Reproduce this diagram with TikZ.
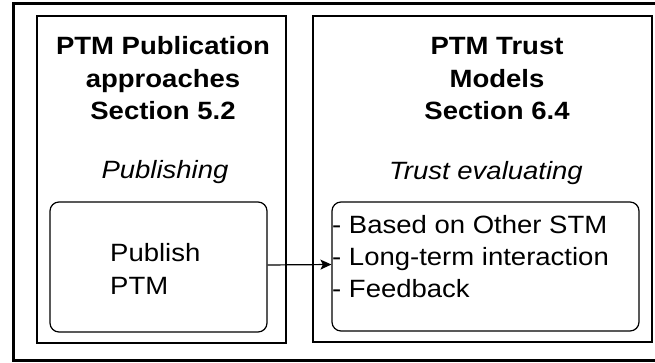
\documentclass[tikz,border=0pt]{standalone}
\usepackage{fontspec}
\setmainfont{Liberation Sans}[FakeStretch=1.1]
\usetikzlibrary{arrows.meta}

\begin{document}
\begin{tikzpicture}[x=1pt,y=-1pt,
    panel/.style={draw=black, line width=1.2pt, inner sep=0pt},
    roundbox/.style={draw=black, line width=1.2pt, rounded corners=9pt, inner sep=0pt},
    label/.style={inner sep=0pt, font=\fontsize{25}{32.5}\selectfont, align=center, anchor=base},
    link/.style={line width=1.2pt, -{Stealth[length=11pt,width=10pt,inset=2.5pt]}}]
% Page size
\useasboundingbox (0,0) rectangle (655,363);

% Outer frame (right side runs off the page)
\draw[line width=3pt] (13,3.5) rectangle (659,360);

% Two panels
\node[panel, minimum width=249pt, minimum height=327pt] (pubpanel) at (161.5,179.5) {};
\node[panel, minimum width=339pt, minimum height=326pt] (trustpanel) at (482.5,179) {};

% Panel titles (base = last line)
\node[label, font=\fontsize{25}{32.5}\selectfont\bfseries] (pubtitle) at (163,120)
    {PTM Publication\\approaches\\Section 5.2};
\node[label, font=\fontsize{25}{32.5}\selectfont\bfseries] (trusttitle) at (497,120)
    {PTM Trust\\Models\\Section 6.4};

% Panel subtitles
\node[label, font=\fontsize{25}{32.5}\selectfont\itshape] (pubsub) at (165,179) {Publishing};
\node[label, font=\fontsize{25}{32.5}\selectfont\itshape] (trustsub) at (486,180) {Trust evaluating};

% Inner boxes
\node[roundbox, minimum width=217pt, minimum height=130pt] (pub) at (158.5,267) {};
\node[roundbox, minimum width=307pt, minimum height=129pt] (trust) at (485.5,266.5) {};

% Box contents
\node[label, align=left, anchor=base west] (pubtext) at (110,294) {Publish\\PTM};
\node[label, align=left, anchor=base west, font=\fontsize{25}{32}\selectfont] (trusttext) at (332,297)
    {- Based on Other STM\\- Long-term interaction\\- Feedback};

% Connector
\draw[link] ([yshift=2pt]pub.east) -- ([yshift=2pt]trust.west);
\end{tikzpicture}
\end{document}
